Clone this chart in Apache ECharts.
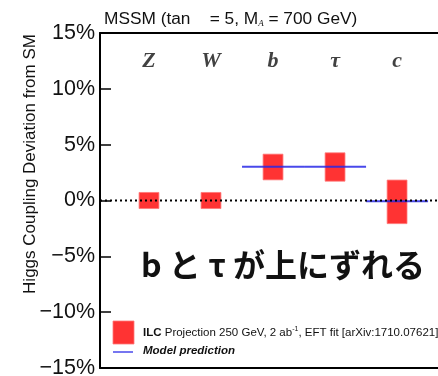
<!DOCTYPE html>
<html><head><meta charset="utf-8">
<script src="https://cdn.jsdelivr.net/npm/echarts@6/dist/echarts.min.js"></script>
<style>html,body{margin:0;padding:0;background:#fff}#c{width:438px;height:376px}</style>
</head><body><div id="c"></div>
<script>
const categories = ['Z', 'W', 'b', 'τ', 'c'];
const centers = [0.0, 0.0, 3.0, 3.0, -0.12];
const errors = [0.72, 0.72, 1.15, 1.27, 1.95];
const model = [null, null, 3.02, 3.02, -0.06];
const yTicks = [-15, -10, -5, 0, 5, 10, 15];
const labelY = 12.5;

const chart = echarts.init(document.getElementById('c'), null, {renderer: 'canvas'});

const barData = categories.map((c, i) => [i, centers[i] - errors[i], centers[i] + errors[i]]);
const modelData = [];
model.forEach((v, i) => { if (v !== null) modelData.push([i, v]); });
const labelData = categories.map((c, i) => [i, labelY, c]);

const XMIN = -0.79, XMAX = 4.66;

chart.setOption({
  animation: false,
  grid: {left: 100, right: 0, top: 33, bottom: 8, show: false, outerBoundsMode: 'none', containLabel: false},
  title: {
    text: 'MSSM (tan    = 5, M{sub|A} = 700 GeV)',
    left: 99, top: 5,
    textStyle: {fontFamily: 'Liberation Sans, Arial', fontSize: 17.3, fontWeight: 'normal', color: '#111',
      rich: {sub: {fontSize: 9, fontStyle: 'italic', verticalAlign: 'bottom', padding: [9, 0, 0, 0], fontFamily: 'Liberation Serif'}}}
  },
  xAxis: [{
    type: 'value', min: XMIN, max: XMAX, position: 'bottom',
    axisLine: {show: true, onZero: false, lineStyle: {color: '#000', width: 2}}, axisTick: {show: false}, axisLabel: {show: false}, splitLine: {show: false}
  }, {
    type: 'value', min: XMIN, max: XMAX, position: 'top',
    axisLine: {show: true, onZero: false, lineStyle: {color: '#000', width: 2}}, axisTick: {show: false}, axisLabel: {show: false}, splitLine: {show: false}
  }],
  yAxis: {
    type: 'value', min: -15, max: 15, interval: 5,
    axisLine: {show: true, onZero: false, lineStyle: {color: '#000', width: 2}},
    axisTick: {show: true, inside: true, length: 11, lineStyle: {color: '#000', width: 1.5}},
    axisLabel: {fontFamily: 'Liberation Sans, Arial', fontSize: 21.5, color: '#111', margin: 5,
      formatter: v => (v < 0 ? '\u2212' + Math.abs(v) : v) + '%'},
    splitLine: {show: false}
  },
  series: [
    {
      type: 'custom',
      name: 'ILC',
      renderItem: function (params, api) {
        const x = api.value(0);
        const p1 = api.coord([x, api.value(2)]);
        const p2 = api.coord([x, api.value(1)]);
        const w = api.size([0.32, 0])[0];
        return {type: 'rect', shape: {x: p1[0] - w / 2, y: p1[1], width: w, height: p2[1] - p1[1]},
          style: {fill: '#ff3333', stroke: 'rgba(255,120,120,0.8)', lineWidth: 1}};
      },
      data: barData, z: 2
    },
    {
      type: 'custom',
      name: 'Model',
      renderItem: function (params, api) {
        const x = api.value(0), y = api.value(1);
        const a = api.coord([x - 0.5, y]);
        const b = api.coord([x + 0.5, y]);
        return {type: 'line', shape: {x1: a[0], y1: a[1], x2: b[0], y2: b[1]},
          style: {stroke: 'rgba(40,40,230,0.85)', lineWidth: 2}};
      },
      data: modelData, z: 3
    },
    {
      type: 'line', data: [[XMIN, 0], [XMAX, 0]], symbol: 'none', z: 4,
      lineStyle: {color: '#000', width: 2, type: [2, 3]}
    },
    {
      type: 'scatter', data: labelData, symbolSize: 0, z: 5,
      label: {show: true, position: 'inside', formatter: p => p.data[2],
        fontFamily: 'Liberation Serif, Times New Roman', fontStyle: 'italic', fontWeight: 'bold', fontSize: 22, color: '#111'}
    }
  ],
  graphic: [
    {type: 'text', x: 30, y: 164, rotation: Math.PI / 2,
      style: {text: 'Higgs Coupling Deviation from SM', fontFamily: 'Liberation Sans, Arial', fontSize: 17, fill: '#111', align: 'center', verticalAlign: 'middle'}},
    {type: 'text', left: 141, top: 249,
      style: {text: 'b と τ が上にずれる', fontFamily: 'Noto Sans CJK JP', fontWeight: 'bold', fontSize: 32, fill: '#111'}},
    {type: 'rect', shape: {x: 113, y: 321, width: 21, height: 23}, style: {fill: '#ff3333', stroke: 'rgba(255,120,120,0.8)', lineWidth: 1}},
    {type: 'text', left: 143, top: 326,
      style: {text: '{b|ILC} Projection 250 GeV, 2 ab{sup|-1}, EFT fit [arXiv:1710.07621]', fontFamily: 'Liberation Sans, Arial', fontSize: 11.5, fill: '#111',
        rich: {b: {fontWeight: 'bold', fontSize: 11.5, fontFamily: 'Liberation Sans, Arial'}, sup: {fontSize: 7, verticalAlign: 'top', padding: [0, 0, 6, 0], fontFamily: 'Liberation Sans, Arial'}}}},
    {type: 'line', shape: {x1: 113, y1: 352, x2: 133, y2: 352}, style: {stroke: 'rgba(40,40,230,0.85)', lineWidth: 1.5}},
    {type: 'text', left: 143, top: 345,
      style: {text: 'Model prediction', fontFamily: 'Liberation Sans, Arial', fontSize: 11.5, fontWeight: 'bold', fontStyle: 'italic', fill: '#111'}}
  ]
});
</script></body></html>
